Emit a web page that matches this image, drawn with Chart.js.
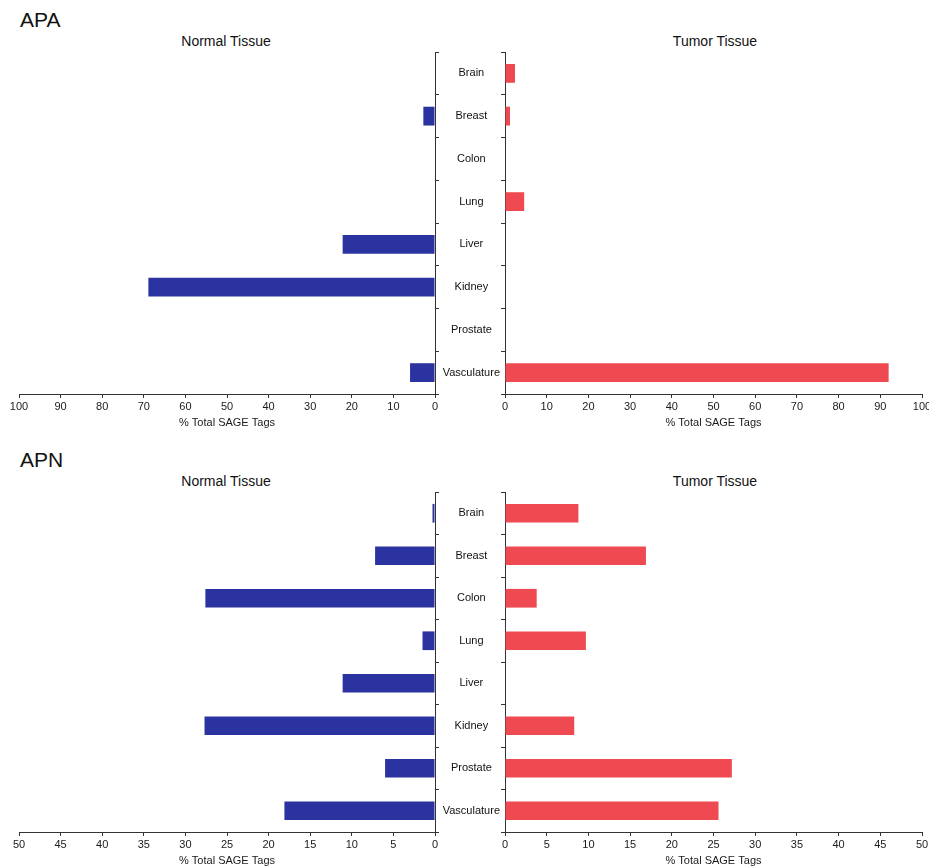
<!DOCTYPE html>
<html>
<head>
<meta charset="utf-8">
<script src="https://cdn.jsdelivr.net/npm/chart.js@4.4.1/dist/chart.umd.min.js"></script>
<style>
    html, body { margin: 0; padding: 0; background: #fff; }
    body { width: 929px; height: 867px; overflow: hidden; position: relative; font-family: "Liberation Sans", Arial, sans-serif; color: #111; }
    canvas { position: absolute; }
    .head { position: absolute; font-size: 21px; line-height: 24px; }
    .sub { position: absolute; font-size: 14px; line-height: 16px; transform: translateX(-50%); white-space: nowrap; }
</style>
</head>
<body>
<div class="head" style="left:20px; top:8px;">APA</div>
<div class="sub" style="left:226px; top:33px;">Normal Tissue</div>
<div class="sub" style="left:715px; top:33px;">Tumor Tissue</div>
<canvas id="apaNormal" width="445" height="392" style="left:0; top:42px;"></canvas>
<canvas id="apaTumor" width="505" height="392" style="left:435px; top:42px;"></canvas>

<div class="head" style="left:20px; top:448px;">APN</div>
<div class="sub" style="left:226px; top:473px;">Normal Tissue</div>
<div class="sub" style="left:715px; top:473px;">Tumor Tissue</div>
<canvas id="apnNormal" width="445" height="390" style="left:0; top:482px;"></canvas>
<canvas id="apnTumor" width="505" height="390" style="left:435px; top:482px;"></canvas>

<script>
// Catégories (tissus)
const tissues = ['Brain', 'Breast', 'Colon', 'Lung', 'Liver', 'Kidney', 'Prostate', 'Vasculature'];

// APA - % Total SAGE Tags
const apaNormal = [0, 2.8, 0, 0, 22.2, 68.9, 0, 6.0];
const apaTumor = [2.4, 1.2, 0, 4.6, 0, 0, 0, 92.0];

// APN - % Total SAGE Tags
const apnNormal = [0.3, 7.2, 27.6, 1.5, 11.1, 27.7, 6.0, 18.1];
const apnTumor = [8.8, 16.9, 3.8, 9.7, 0, 8.3, 27.2, 25.6];

// Échelles des axes x
const apaAxis = { max: 100, step: 10 };
const apnAxis = { max: 50, step: 5 };

const axisTitle = '% Total SAGE Tags';
const blue = '#2b33a0';
const red = '#ef4a52';
const lineColor = '#333';

Chart.defaults.font.family = '"Liberation Sans", Arial, sans-serif';
Chart.defaults.color = '#1a1a1a';

function createPanel(canvasId, values, axis, side) {
    const isLeft = side === 'left';
    const canvas = document.getElementById(canvasId);

    new Chart(canvas, {
        type: 'bar',
        data: {
            labels: tissues,
            datasets: [{
                data: values,
                backgroundColor: isLeft ? blue : red,
                borderWidth: 0,
                barPercentage: 0.44,
                categoryPercentage: 1
            }]
        },
        options: {
            indexAxis: 'y',
            responsive: false,
            maintainAspectRatio: false,
            animation: false,
            layout: {
                padding: isLeft
                    ? { left: 19, right: 0, top: 10, bottom: 0 }
                    : { left: 0, right: 18, top: 10, bottom: 0 }
            },
            plugins: {
                legend: { display: false },
                tooltip: { enabled: false }
            },
            scales: {
                x: {
                    reverse: isLeft,
                    min: 0,
                    max: axis.max,
                    afterFit: scale => { scale.height = 40; },
                    ticks: {
                        stepSize: axis.step,
                        maxRotation: 0,
                        autoSkip: false,
                        padding: 2,
                        font: { size: 11 },
                        color: '#1a1a1a'
                    },
                    grid: {
                        drawOnChartArea: false,
                        drawTicks: true,
                        tickLength: 4,
                        color: lineColor
                    },
                    border: { display: true, color: lineColor, width: 1 },
                    title: {
                        display: true,
                        text: axisTitle,
                        font: { size: 11 },
                        color: '#1a1a1a',
                        padding: { top: 2, bottom: 4 }
                    }
                },
                y: {
                    position: isLeft ? 'right' : 'left',
                    afterFit: scale => { scale.width = isLeft ? 10 : 70; },
                    ticks: {
                        display: !isLeft,
                        crossAlign: 'center',
                        padding: 1,
                        font: { size: 11 },
                        color: '#111'
                    },
                    grid: {
                        drawOnChartArea: false,
                        drawTicks: true,
                        tickLength: 4,
                        offset: true,
                        color: lineColor
                    },
                    border: { display: true, color: lineColor, width: 1 }
                }
            }
        }
    });
}

createPanel('apaNormal', apaNormal, apaAxis, 'left');
createPanel('apaTumor', apaTumor, apaAxis, 'right');
createPanel('apnNormal', apnNormal, apnAxis, 'left');
createPanel('apnTumor', apnTumor, apnAxis, 'right');
</script>
</body>
</html>
